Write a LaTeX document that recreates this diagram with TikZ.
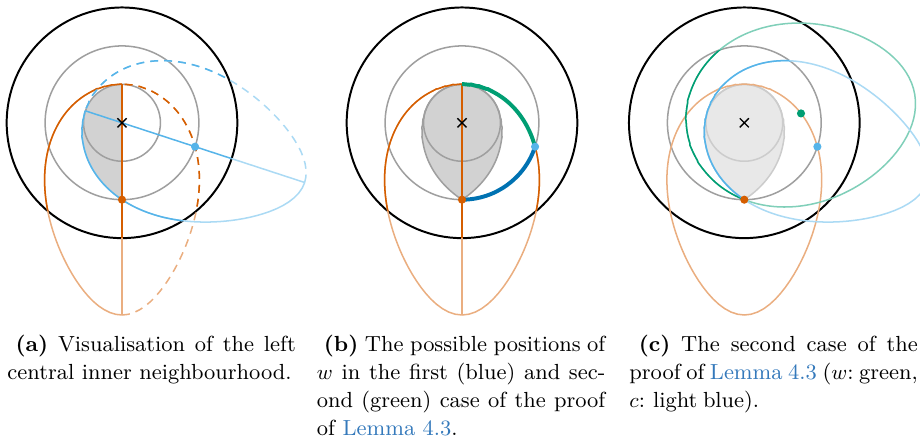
\documentclass[tikz,border=0pt]{standalone}
\usepackage{tikz}
\usetikzlibrary{shapes.misc}
\usepackage{xcolor}
\definecolor{vorange}{HTML}{D55E00}
\definecolor{cblue}{HTML}{56B4E9}
\definecolor{wgreen}{HTML}{009E73}
\definecolor{dblue}{HTML}{0072B2}
\definecolor{linkblue}{HTML}{3479BB}

\begin{document}
\begin{tikzpicture}[
    x=0.43pt, y=0.43pt,
    declare function={
      hacosh(\hx)=ln(\hx+sqrt(\hx*\hx-1));
      hrad(\hp,\ha)=0.5*ln((cosh(\hp)+sinh(\hp)*cos(\ha))/(cosh(\hp)-sinh(\hp)*cos(\ha)))
        +hacosh(cosh(3)/sqrt(cosh(\hp)^2-(sinh(\hp)*cos(\ha))^2));
    },
    disk/.style={line width=0.85pt, draw=black},
    ring/.style={line width=0.65pt, draw=gray!75},
    faintring/.style={line width=0.65pt, draw=gray!40},
    nbfill/.style={fill=gray!35},
    faintfill/.style={fill=gray!18},
    curve/.style={line width=0.65pt},
    halfdash/.style={dash pattern=on 3.4pt off 2.6pt},
    heavy/.style={line width=1.7pt},
    hdot/.style={circle, inner sep=0pt, minimum size=3.5pt},
    origin/.style={cross out, draw, black, line width=0.6pt, inner sep=0pt, minimum size=3.3pt},
    capbox/.style={anchor=north west, inner sep=0pt, text width=124pt, align=justify,
      font=\fontsize{9.4}{12.04}\selectfont,
      execute at begin node={\hyphenpenalty=10000\relax\tolerance=9999\relax}},
]

\useasboundingbox (0,0) rectangle (920,-446);

% angles of c, of v seen from c, of the mirror of c, and of w
\pgfmathsetmacro\thc{-90+acos((cosh(2)^2-cosh(3))/(sinh(2)^2))}
\pgfmathsetmacro\tha{-\thc}
\pgfmathsetmacro\dcv{270-\thc}
\pgfmathsetmacro\dvc{90+\thc}
\pgfmathsetmacro\thm{180-\thc}
\pgfmathsetmacro\thw{9.4}
\pgfmathsetmacro\rw{hrad(2,\thw+90)}

\coordinate (ca) at (122.0,-122.8);
\coordinate (cb) at (462.0,-122.8);
\coordinate (cc) at (744.3,-122.8);

% (a)
\begin{scope}[shift={(ca)}, x=16.53pt, y=16.53pt]
  \fill[nbfill] (90:1) -- (270:2)
    -- plot[domain=\dcv:180, samples=50, variable=\ha] ({\thc+\ha}:{hrad(2,\ha)})
    arc[start angle=180+\thc, end angle=90, radius=1] -- cycle;
  \draw[ring] (0,0) circle[radius=1];
  \draw[ring] (0,0) circle[radius=2];
  \draw[disk] (0,0) circle[radius=3];
  % disc around v
  \draw[curve, vorange!50] plot[domain=180:360, samples=100, variable=\ha] ({\ha-90}:{hrad(2,\ha)});
  \draw[curve, halfdash, vorange!50] plot[domain=0:180, samples=100, variable=\ha] ({\ha-90}:{hrad(2,\ha)});
  % disc around c
  \draw[curve, cblue!50] plot[domain=180:360, samples=100, variable=\ha] ({\thc+\ha}:{hrad(2,\ha)});
  \draw[curve, halfdash, cblue!50] plot[domain=0:180, samples=100, variable=\ha] ({\thc+\ha}:{hrad(2,\ha)});
  \begin{scope}
    \clip (0,0) circle[radius=3];
    \draw[curve, vorange] plot[domain=180:360, samples=100, variable=\ha] ({\ha-90}:{hrad(2,\ha)});
    \draw[curve, halfdash, vorange] plot[domain=0:180, samples=100, variable=\ha] ({\ha-90}:{hrad(2,\ha)});
    \draw[curve, cblue] plot[domain=180:360, samples=100, variable=\ha] ({\thc+\ha}:{hrad(2,\ha)});
    \draw[curve, halfdash, cblue] plot[domain=0:180, samples=100, variable=\ha] ({\thc+\ha}:{hrad(2,\ha)});
  \end{scope}
  % axes through v and c
  \draw[curve, vorange] (90:1) -- (270:3);
  \draw[curve, vorange!50] (270:3) -- (270:5);
  \draw[curve, cblue] (180+\thc:1) -- (\thc:3);
  \draw[curve, cblue!50] (\thc:3) -- (\thc:5);
  \node[hdot, fill=vorange] (va) at (270:2) {};
  \node[hdot, fill=cblue] (ua) at (\thc:2) {};
  \node[origin] (oa) at (0,0) {};
\end{scope}

% (b)
\begin{scope}[shift={(cb)}, x=16.53pt, y=16.53pt]
  \filldraw[ring, nbfill] (\tha:1) arc[start angle=\tha, end angle=180+\thc, radius=1]
    -- plot[domain=180:\dcv, samples=50, variable=\ha] ({\thc+\ha}:{hrad(2,\ha)})
    -- plot[domain=\dvc:180, samples=50, variable=\ha] ({\thm+\ha}:{hrad(2,\ha)}) -- cycle;
  \draw[ring] (0,0) circle[radius=1];
  \draw[ring] (0,0) circle[radius=2];
  \draw[disk] (0,0) circle[radius=3];
  % disc around v
  \draw[curve, vorange!50] plot[domain=0:360, samples=180, variable=\ha] ({\ha-90}:{hrad(2,\ha)});
  \begin{scope}
    \clip (0,0) circle[radius=3];
    \draw[curve, vorange] plot[domain=0:360, samples=180, variable=\ha] ({\ha-90}:{hrad(2,\ha)});
  \end{scope}
  \draw[curve, vorange] (90:1) -- (270:3);
  \draw[curve, vorange!50] (270:3) -- (270:5);
  % positions of w
  \draw[heavy, wgreen] plot[domain=\dvc:180, samples=50, variable=\ha] ({\ha-90}:{hrad(2,\ha)});
  \draw[heavy, dblue] (\thc:2) arc[start angle=\thc, end angle=-90, radius=2];
  \node[hdot, fill=vorange] (vb) at (270:2) {};
  \node[hdot, fill=cblue] (ub) at (\thc:2) {};
  \node[origin] (ob) at (0,0) {};
\end{scope}

% (c)
\begin{scope}[shift={(cc)}, x=16.53pt, y=16.53pt]
  \filldraw[faintring, faintfill] (\tha:1) arc[start angle=\tha, end angle=180+\thc, radius=1]
    -- plot[domain=180:\dcv, samples=50, variable=\ha] ({\thc+\ha}:{hrad(2,\ha)})
    -- plot[domain=\dvc:180, samples=50, variable=\ha] ({\thm+\ha}:{hrad(2,\ha)}) -- cycle;
  \draw[faintring] (0,0) circle[radius=1];
  \draw[ring] (0,0) circle[radius=2];
  \draw[disk] (0,0) circle[radius=3];
  % discs around v, w and c
  \draw[curve, vorange!50] plot[domain=0:360, samples=180, variable=\ha] ({\ha-90}:{hrad(2,\ha)});
  \draw[curve, wgreen!50] plot[domain=0:360, samples=180, variable=\ha] ({\thw+\ha}:{hrad(\rw,\ha)});
  \draw[curve, cblue!50] plot[domain=0:360, samples=180, variable=\ha] ({\thc+\ha}:{hrad(2,\ha)});
  \begin{scope}
    \clip (0,0) circle[radius=2];
    \draw[curve, wgreen] plot[domain=0:360, samples=180, variable=\ha] ({\thw+\ha}:{hrad(\rw,\ha)});
    \draw[curve, cblue] plot[domain=0:360, samples=180, variable=\ha] ({\thc+\ha}:{hrad(2,\ha)});
  \end{scope}
  \node[hdot, fill=vorange] (vc) at (270:2) {};
  \node[hdot, fill=wgreen] (wc) at (\thw:\rw) {};
  \node[hdot, fill=cblue] (uc) at (\thc:2) {};
  \node[origin] (oc) at (0,0) {};
\end{scope}

% Captions
\node[capbox] (capa) at (7,-335) {\hspace*{3.5pt}\textbf{(a)} Visualisation of the left\linebreak
  central inner neighbourhood.};
\node[capbox] (capb) at (316.5,-335) {\hspace*{3pt}\textbf{(b)} The possible positions of\linebreak
  $w$ in the first (blue) and sec-\linebreak ond (green) case of the proof\linebreak
  of \textcolor{linkblue}{Lemma~4.3}.};
\node[capbox] (capc) at (629,-335) {\spaceskip=2.4pt plus 4pt minus 0.6pt\relax
  \hspace*{4pt}\textbf{(c)} The second case of the\linebreak
  proof~of~\textcolor{linkblue}{Lemma~4.3}~($w$:~green,\linebreak $c$: light blue).};

\end{tikzpicture}
\end{document}
